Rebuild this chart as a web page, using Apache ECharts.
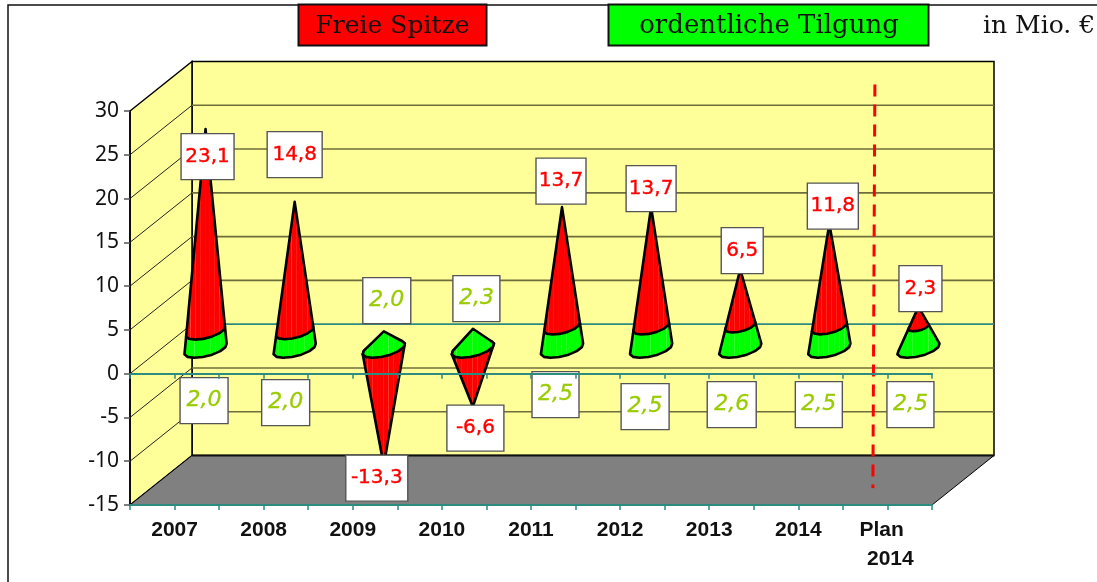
<!DOCTYPE html>
<html>
<head>
<meta charset="utf-8">
<style>
  html, body { margin: 0; padding: 0; background: #fff; }
  #chart { width: 1097px; height: 582px; }
</style>
<script src="https://cdn.jsdelivr.net/npm/echarts@6/dist/echarts.min.js"></script>
</head>
<body>
<div id="chart"></div>
<script>
const categories = ['2007', '2008', '2009', '2010', '2011', '2012', '2013', '2014', 'Plan  \n 2014']
const freieSpitze = [23.1, 14.8, -13.3, -6.6, 13.7, 13.7, 6.5, 11.8, 2.3]
const tilgung = [2.0, 2.0, 2.0, 2.3, 2.5, 2.5, 2.6, 2.5, 2.5]
const yTicks = [-15, -10, -5, 0, 5, 10, 15, 20, 25, 30]

// label boxes: offset of the box centre from the category's zero point, box width
const redOffsets = [[33, -217], [31, -219], [24, 104.5], [33.5, 54.5], [30, -192.5], [31, -185], [33, -123], [34.5, -167.5], [33, -85]]
const redWidths = [53, 55, 62, 57, 50, 50, 42, 51, 43]
const greenOffsets = [[29.5, 27], [22, 29], [34, -73], [34.5, -75], [24.5, 21], [25, 33], [22.5, 31], [20.5, 31], [23, 31]]
const greenWidths = [48, 48, 48, 47, 47, 48, 49, 47, 47]

const depth = [62, -49.5] // 3D offset of the back wall
const coneRx = 18
const coneDepth = 0.18
const planLineTop = 30.2
const planLineBottom = -15.9

const RED = '#ff0000'
const GREEN = '#00ff00'
const TEAL = '#2e8b80'
const WALL = '#ffff99'

function stripes(base, light, x0, x1) {
  const n = Math.max(1, Math.round((x1 - x0) / 5))
  const colorStops = []
  for (let i = 0; i < n; i++) {
    colorStops.push({ offset: i / n, color: base })
    colorStops.push({ offset: (i + 0.8) / n, color: base })
    colorStops.push({ offset: (i + 0.9) / n, color: light })
  }
  colorStops.push({ offset: 1, color: base })
  return { type: 'linear', x: x0, y: 0, x2: x1, y2: 0, global: true, colorStops }
}

// base ring of a cone, skewed along the depth direction
function ring(cx, cy, scale) {
  const pts = []
  for (let k = 0; k < 14; k++) {
    const t = k / 14 * Math.PI * 2 + 0.2
    pts.push([
      cx + scale * (coneRx * Math.cos(t) + depth[0] * coneDepth * Math.sin(t)),
      cy + scale * depth[1] * coneDepth * Math.sin(t)
    ])
  }
  return pts
}

function hull(points) {
  const p = points.slice().sort((a, b) => a[0] - b[0] || a[1] - b[1])
  const cross = (o, a, b) => (a[0] - o[0]) * (b[1] - o[1]) - (a[1] - o[1]) * (b[0] - o[0])
  const lo = []
  const up = []
  p.forEach(q => {
    while (lo.length > 1 && cross(lo[lo.length - 2], lo[lo.length - 1], q) <= 0) lo.pop()
    lo.push(q)
  })
  p.slice().reverse().forEach(q => {
    while (up.length > 1 && cross(up[up.length - 2], up[up.length - 1], q) <= 0) up.pop()
    up.push(q)
  })
  return lo.slice(0, -1).concat(up.slice(0, -1))
}

function solid(points, base, light) {
  const pts = hull(points)
  const xs = pts.map(q => q[0])
  return {
    type: 'polygon',
    shape: { points: pts },
    style: {
      fill: stripes(base, light, Math.min.apply(null, xs), Math.max.apply(null, xs)),
      stroke: '#000',
      lineWidth: 2.6,
      lineJoin: 'round'
    }
  }
}

function renderWalls(params, api) {
  const sys = params.coordSys
  const left = sys.x
  const right = sys.x + sys.width
  const yOf = v => api.coord([0, v])[1]
  const bottom = yOf(-15)
  const top = yOf(30)
  const [dx, dy] = depth
  const children = [
    { type: 'polygon', shape: { points: [[left + dx, top + dy], [right + dx, top + dy], [right + dx, bottom + dy], [left + dx, bottom + dy]] }, style: { fill: WALL, stroke: '#000', lineWidth: 1.5 } },
    { type: 'polygon', shape: { points: [[left, top], [left + dx, top + dy], [left + dx, bottom + dy], [left, bottom]] }, style: { fill: WALL, stroke: '#000', lineWidth: 1.5 } },
    { type: 'polygon', shape: { points: [[left, bottom], [left + dx, bottom + dy], [right + dx, bottom + dy], [right, bottom]] }, style: { fill: '#808080', stroke: '#000', lineWidth: 1 } }
  ]
  yTicks.slice(1, -1).forEach(v => {
    const y = yOf(v)
    children.push({ type: 'line', shape: { x1: left, y1: y, x2: left + dx, y2: y + dy }, style: { stroke: '#222', lineWidth: 1 } })
    children.push({ type: 'line', shape: { x1: left + dx, y1: y + dy, x2: right + dx, y2: y + dy }, style: { stroke: v === 0 ? TEAL : '#6e6e3c', lineWidth: 1.6 } })
  })
  children.push({ type: 'line', shape: { x1: left + dx, y1: bottom + dy, x2: right + dx, y2: bottom + dy }, style: { stroke: '#111', lineWidth: 2 } })
  return { type: 'group', children }
}

function renderCone(params, api) {
  const i = api.value(0)
  const g = api.value(1)
  const r = api.value(2)
  const mid = v => {
    const c = api.coord([i, v])
    return [c[0] + depth[0] / 2, c[1] + depth[1] / 2]
  }
  const base = mid(0)
  const children = []
  if (r < 0) {
    children.push(solid(ring(base[0], base[1], 1).concat([mid(r)]), RED, '#ff3a2a'))
    children.push(solid(ring(base[0], base[1], 1).concat([mid(g)]), GREEN, '#3cff3c'))
  } else {
    const total = g + r
    const cut = mid(g)
    const cutRing = ring(cut[0], cut[1], 1 - g / total)
    children.push(solid(ring(base[0], base[1], 1).concat(cutRing), GREEN, '#3cff3c'))
    children.push(solid(cutRing.concat([mid(total)]), RED, '#ff3a2a'))
  }
  return { type: 'group', children }
}

function boxRenderer(offsets, widths, textStyle) {
  return function (params, api) {
    const i = params.dataIndex
    const c = api.coord([api.value(0), 0])
    const x = c[0] + offsets[i][0]
    const y = c[1] + offsets[i][1]
    const w = widths[i]
    return {
      type: 'group',
      children: [
        { type: 'rect', shape: { x: x - w / 2, y: y - 23, width: w, height: 46 }, style: { fill: '#fff', stroke: '#555', lineWidth: 1.4 } },
        {
          type: 'text',
          style: Object.assign({
            x: x,
            y: y,
            text: api.value(1).toFixed(1).replace('.', ','),
            align: 'center',
            verticalAlign: 'middle'
          }, textStyle)
        }
      ]
    }
  }
}

// dashed separator sits between the last two categories, in the middle of the depth
function renderPlanLine(params, api) {
  const n = categories.length
  const xMid = (api.coord([n - 2, 0])[0] + api.coord([n - 1, 0])[0]) / 2
  const top = api.coord([n - 1, planLineTop])
  const bottom = api.coord([n - 1, planLineBottom])
  return {
    type: 'line',
    shape: {
      x1: xMid + depth[0] / 2 + 1,
      y1: top[1] + depth[1] / 2,
      x2: xMid + depth[0] / 2 - 1,
      y2: bottom[1] + depth[1] / 2
    },
    style: { stroke: RED, lineWidth: 3, lineDash: [12, 8] }
  }
}

const halfBands = new Array(18).fill('')
const tealTick = { show: true, length: 5, lineStyle: { color: TEAL, width: 1.5 } }
const tealLine = { show: true, lineStyle: { color: TEAL, width: 2 } }

const chart = echarts.init(document.getElementById('chart'))
chart.setOption({
  animation: false,
  backgroundColor: '#fff',
  grid: { left: 130, top: 111, width: 802, height: 394, containLabel: false },
  xAxis: [
    {
      type: 'category',
      data: categories,
      position: 'bottom',
      axisLine: { show: false, onZero: false },
      axisTick: { show: false },
      axisLabel: {
        interval: 0,
        margin: 11,
        lineHeight: 29,
        color: '#111',
        fontFamily: 'Liberation Sans',
        fontWeight: 'bold',
        fontSize: 21
      }
    },
    {
      type: 'category',
      data: halfBands,
      position: 'bottom',
      z: 10,
      axisLine: Object.assign({ onZero: false }, tealLine),
      axisTick: tealTick,
      axisLabel: { show: false }
    },
    {
      type: 'category',
      data: halfBands,
      position: 'bottom',
      z: 10,
      axisLine: Object.assign({ onZero: true, onZeroAxisIndex: 0 }, tealLine),
      axisTick: tealTick,
      axisLabel: { show: false }
    }
  ],
  yAxis: {
    type: 'value',
    min: -15,
    max: 30,
    interval: 5,
    z: 10,
    splitLine: { show: false },
    axisLine: { show: true, lineStyle: { color: '#000', width: 1.5 } },
    axisTick: { show: true, length: 6, lineStyle: { color: '#555', width: 1.5 } },
    axisLabel: { margin: 11, color: '#111', fontFamily: 'Noto Sans', fontSize: 21 }
  },
  graphic: [
    { type: 'rect', z: -1, silent: true, shape: { x: 8, y: 5, width: 1200, height: 700 }, style: { fill: 'none', stroke: '#111', lineWidth: 1.5 } },
    { type: 'rect', shape: { x: 298.5, y: 4.5, width: 188, height: 41 }, style: { fill: RED, stroke: '#111', lineWidth: 2 } },
    { type: 'text', style: { x: 392.5, y: 26, text: 'Freie Spitze', align: 'center', verticalAlign: 'middle', fill: '#111', font: '25px "DejaVu Serif"' } },
    { type: 'rect', shape: { x: 608.5, y: 4.5, width: 320, height: 41 }, style: { fill: GREEN, stroke: '#111', lineWidth: 2 } },
    { type: 'text', style: { x: 769, y: 26, text: 'ordentliche Tilgung', align: 'center', verticalAlign: 'middle', fill: '#111', font: '26px "DejaVu Serif"' } },
    { type: 'text', style: { x: 983, y: 26, text: 'in Mio. €', align: 'left', verticalAlign: 'middle', fill: '#111', font: '25px "DejaVu Serif"' } }
  ],
  series: [
    { type: 'custom', name: 'Wände', silent: true, clip: false, z: 1, data: [[0, 0]], renderItem: renderWalls },
    {
      type: 'custom',
      name: 'Freie Spitze',
      silent: true,
      clip: false,
      z: 2,
      data: categories.map((c, i) => [i, tilgung[i], freieSpitze[i]]),
      encode: { x: 0, y: 1 },
      renderItem: renderCone
    },
    {
      type: 'custom',
      name: 'Freie Spitze Werte',
      silent: true,
      clip: false,
      z: 3,
      data: freieSpitze.map((v, i) => [i, v]),
      encode: { x: 0, y: 1 },
      renderItem: boxRenderer(redOffsets, redWidths, { fill: RED, font: '20px "DejaVu Sans"', stroke: RED, lineWidth: 0.4 })
    },
    {
      type: 'custom',
      name: 'ordentliche Tilgung Werte',
      silent: true,
      clip: false,
      z: 3,
      data: tilgung.map((v, i) => [i, v]),
      encode: { x: 0, y: 1 },
      renderItem: boxRenderer(greenOffsets, greenWidths, { fill: '#99cc00', font: 'italic 22px "DejaVu Sans"', stroke: '#99cc00', lineWidth: 0.3 })
    },
    { type: 'custom', name: 'Plan', silent: true, clip: false, z: 4, data: [[8, 0]], renderItem: renderPlanLine }
  ]
})
</script>
</body>
</html>
